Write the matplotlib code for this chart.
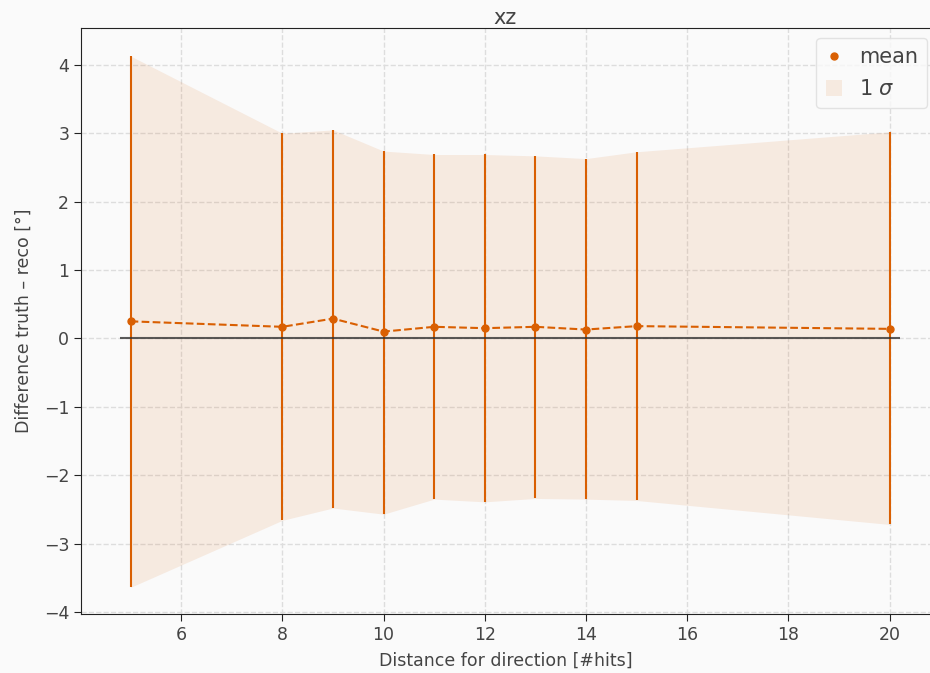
import numpy as np
import matplotlib.pyplot as plt

hits = [5, 8, 9, 10, 11, 12, 13, 14, 15, 20]
mean = [0.25, 0.17, 0.29, 0.10, 0.17, 0.15, 0.17, 0.13, 0.18, 0.14]
upper = [4.13, 3.00, 3.05, 2.74, 2.69, 2.69, 2.67, 2.63, 2.73, 3.02]
lower = [-3.64, -2.66, -2.48, -2.57, -2.35, -2.39, -2.34, -2.35, -2.37, -2.72]

col = '#d95f02'
txt = '#444444'

plt.rcParams['font.family'] = 'DejaVu Sans'
fig = plt.figure(figsize=(9.3, 6.73), dpi=100, facecolor='#fafafa')
ax = fig.add_axes([81/930, 59/673, 1.0 - 81/930, (614-28)/673])
ax.set_facecolor('#fafafa')

ax.fill_between(hits, lower, upper, color=col, alpha=0.1, linewidth=0, label=r'1 $\sigma$')
ax.vlines(hits, lower, upper, color=col, linewidth=1.5)
ax.plot(hits, mean, '--', color=col, linewidth=1.5)
ax.plot(hits, mean, 'o', color=col, markersize=5, label='mean')
ax.hlines(0, 4.8, 20.2, color='#333333', alpha=0.8, linewidth=1.5)

ax.set_xlim(4.02, 20.8)
ax.set_ylim(-4.03, 4.54)
ax.set_xticks([6, 8, 10, 12, 14, 16, 18, 20])
ax.set_yticks([-4, -3, -2, -1, 0, 1, 2, 3, 4])
ax.grid(True, linestyle='--', color='#dddddd', linewidth=1)
ax.set_axisbelow(True)
ax.tick_params(labelsize=12.5, colors=txt, length=5)
ax.tick_params(color='#222222')
for s in ['left', 'bottom', 'top']:
    ax.spines[s].set_color('#222222')
ax.spines['right'].set_visible(False)

ax.set_title('xz', fontsize=15, color=txt, pad=3)
ax.set_xlabel('Distance for direction [#hits]', fontsize=12.5, color=txt, labelpad=6)
ax.set_ylabel('Difference truth – reco [°]', fontsize=12.5, color=txt, labelpad=8)

h, l = ax.get_legend_handles_labels()
leg = ax.legend([h[1], h[0]], [l[1], l[0]], loc='upper right', fontsize=15,
                frameon=True, facecolor='#fafafa', edgecolor='#dddddd',
                handlelength=0.8, handleheight=0.8, handletextpad=0.8,
                labelspacing=0.55, borderpad=0.45,
                borderaxespad=0.0, bbox_to_anchor=(0.997, 0.983))
for t in leg.get_texts():
    t.set_color(txt)

fig.savefig('out.png', dpi=100, facecolor=fig.get_facecolor())
